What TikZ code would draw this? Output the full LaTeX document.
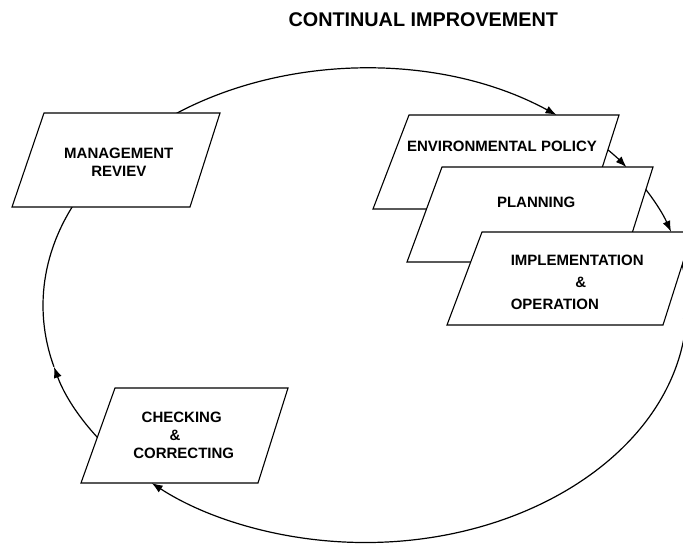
\documentclass[tikz,border=0pt]{standalone}
\usepackage{fontspec}
\setmainfont{Liberation Sans}
\usetikzlibrary{arrows.meta}
\begin{document}
\begin{tikzpicture}[x=1pt,y=1pt,
  conn/.style={line width=1.2pt,-{Latex[length=11pt,width=8pt]}},
  plain/.style={line width=1.2pt},
  box/.style={draw,line width=1.1pt,fill=white,line join=miter},
  lbl/.style={inner sep=0pt,align=center,font=\bfseries\fontsize{15}{18.3}\selectfont},
  ttl/.style={inner sep=0pt,font=\bfseries\fontsize{19.8}{24}\selectfont}]
\useasboundingbox (0,0) rectangle (683,-544);
\clip (0,0) rectangle (683,-544);
\coordinate (O) at (365,-305.5);
% points on the cycle ellipse
\path (O) ++(130:322pt and 237pt) coordinate (s1);
\path (O) ++(45:322pt and 237pt) coordinate (s2);
\path (O) ++(33:322pt and 237pt) coordinate (s3);
\path (O) ++(15:322pt and 237pt) coordinate (s4);
\path (O) ++(-6:322pt and 237pt) coordinate (s5);
\path (O) ++(-140:322pt and 237pt) coordinate (s6);
\path (O) ++(-165:322pt and 237pt) coordinate (s7);
% connectors (arcs of the ellipse)
\draw[conn] (s1) arc[start angle=130,end angle=53.5,x radius=322pt,y radius=237pt];
\draw[conn] (s2) arc[start angle=45,end angle=35.7,x radius=322pt,y radius=237pt];
\draw[conn] (s3) arc[start angle=33,end angle=18.1,x radius=322pt,y radius=237pt];
\draw[conn] (s4) arc[start angle=15,end angle=-6,x radius=322pt,y radius=237pt];
\draw[conn] (s5) arc[start angle=-6,end angle=-131.5,x radius=322pt,y radius=237pt];
\draw[conn] (s6) arc[start angle=-140,end angle=-165,x radius=322pt,y radius=237pt];
\draw[plain] (s7) arc[start angle=-165,end angle=-210,x radius=322pt,y radius=237pt];
% boxes
\draw[box] (44,-113) -- (220,-113) -- (190,-207) -- (12,-207) -- cycle;
\draw[box] (115,-388) -- (288,-388) -- (258,-483) -- (81,-483) -- cycle;
\draw[box] (409,-115) -- (619,-115) -- (589,-209) -- (373,-209) -- cycle;
\draw[box] (442,-167) -- (653,-167) -- (623,-262) -- (407,-262) -- cycle;
\draw[box] (482,-232) -- (692.6,-232) -- (663,-325) -- (447,-325) -- cycle;
% texts
\node[ttl] (title) at (423.3,-19.2) {CONTINUAL IMPROVEMENT};
\node[lbl] (tmr) at (118.8,-162.2) {MANAGEMENT\\REVIEV};
\node[lbl] (tenv) at (502,-146.3) {ENVIRONMENTAL POLICY};
\node[lbl] (tpl) at (536.2,-202.5) {PLANNING};
\node[lbl,align=left,font=\bfseries\fontsize{15}{22}\selectfont] (timp) at (577.2,-282.5) {IMPLEMENTATION\\\hspace*{64.6pt}\&\\OPERATION};
\node[lbl,align=left] (tchk) at (183.7,-435.5) {\hspace*{8.4pt}CHECKING\\\hspace*{36.3pt}\&\\CORRECTING};
\end{tikzpicture}
\end{document}
